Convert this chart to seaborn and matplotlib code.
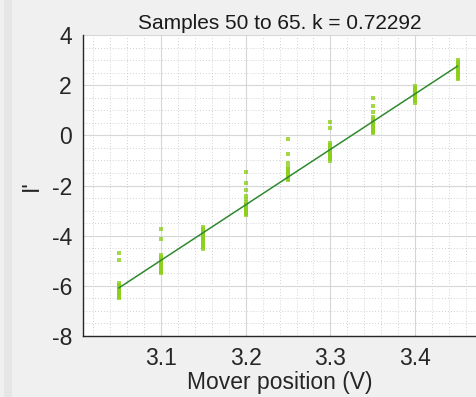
import numpy as np
import pandas as pd
import matplotlib
matplotlib.use("Agg")
import matplotlib.pyplot as plt
from matplotlib.ticker import MultipleLocator
import seaborn as sns

# ---- data ----
positions = [3.05, 3.10, 3.15, 3.20, 3.25, 3.30, 3.35, 3.40, 3.45]
c305 = [-4.68, -4.97, -5.89, -5.95, -6.00, -6.05, -6.10, -6.12, -6.18, -6.22, -6.28, -6.32, -6.38, -6.42, -6.45, -6.49]
c310 = [-3.74, -4.13, -4.77, -4.85, -4.92, -4.98, -5.02, -5.06, -5.10, -5.15, -5.20, -5.25, -5.30, -5.38, -5.45, -5.49]
c315 = [-3.65, -3.72, -3.80, -3.86, -3.90, -3.95, -3.98, -4.02, -4.06, -4.10, -4.15, -4.20, -4.28, -4.37, -4.45, -4.53]
c320 = [-1.46, -1.90, -2.18, -2.40, -2.55, -2.65, -2.72, -2.78, -2.83, -2.88, -2.93, -2.98, -3.03, -3.08, -3.12, -3.18]
c325 = [-0.15, -0.74, -1.10, -1.26, -1.35, -1.42, -1.48, -1.52, -1.56, -1.60, -1.63, -1.66, -1.70, -1.73, -1.76, -1.78]
c330 = [0.53, 0.29, -0.31, -0.38, -0.45, -0.50, -0.55, -0.60, -0.64, -0.68, -0.73, -0.78, -0.84, -0.90, -0.96, -1.02]
c335 = [1.49, 1.17, 0.93, 0.73, 0.65, 0.58, 0.52, 0.47, 0.42, 0.37, 0.32, 0.27, 0.22, 0.17, 0.12, 0.09]
c340 = [1.97, 1.90, 1.85, 1.80, 1.76, 1.72, 1.68, 1.65, 1.62, 1.58, 1.55, 1.50, 1.45, 1.40, 1.35, 1.29]
c345 = [3.00, 2.92, 2.85, 2.80, 2.75, 2.72, 2.68, 2.64, 2.60, 2.56, 2.52, 2.46, 2.40, 2.35, 2.30, 2.25]
clusters = [c305, c310, c315, c320, c325, c330, c335, c340, c345]

fit_x = [3.05, 3.45]
fit_y = [-6.09, 2.76]

xticks = [3.1, 3.2, 3.3, 3.4]
yticks = [-8, -6, -4, -2, 0, 2, 4]
title = "Samples 50 to 65. k = 0.72292"
xlabel = "Mover position (V)"
ylabel = "I'"

# ---- build table ----
rows = []
for p, vals in zip(positions, clusters):
    for v in vals:
        rows.append((p, v))
df = pd.DataFrame(rows, columns=["pos", "val"])
fit_df = pd.DataFrame({"pos": fit_x, "val": fit_y})

sns.set_style("white")
plt.rcParams["font.family"] = ["Liberation Sans", "DejaVu Sans"]

fig = plt.figure(figsize=(4.77, 3.97), dpi=100, facecolor="#f0f0f0")
# subtle darker vertical strip at far left
fig.patches.append(plt.Rectangle((4 / 477, 0), 8 / 477, 1, transform=fig.transFigure,
                                 facecolor="#e6e6e6", edgecolor="none", zorder=0))
ax = fig.add_axes([83 / 477, 61 / 397, 1 - 83 / 477, 301 / 397])
ax.set_facecolor("white")

sns.scatterplot(data=df, x="pos", y="val", ax=ax, marker="s", s=6.5,
                color="#8ccf1c", linewidth=0, alpha=0.8, zorder=3, legend=False)
sns.lineplot(data=fit_df, x="pos", y="val", ax=ax, color="#2f8a2f",
             linewidth=1.1, zorder=4, legend=False)

ax.set_xlim(3.008, 3.473)
ax.set_ylim(-8, 4)
ax.set_xticks(xticks)
ax.set_xticklabels([f"{t:.1f}" for t in xticks])
ax.set_yticks(yticks)
ax.set_yticklabels([str(t) for t in yticks])
ax.xaxis.set_minor_locator(MultipleLocator(0.02))
ax.yaxis.set_minor_locator(MultipleLocator(0.5))

ax.grid(True, which="major", color="#d6d6d6", linewidth=0.8, linestyle="-", zorder=1)
ax.grid(True, which="minor", color="#c2c2c2", linewidth=0.6, linestyle=(0, (1, 2.5)), zorder=1)
ax.set_axisbelow(True)

for s in ["top", "right"]:
    ax.spines[s].set_visible(False)
for s in ["left", "bottom"]:
    ax.spines[s].set_color("#262626")
    ax.spines[s].set_linewidth(1.0)

ax.tick_params(axis="both", which="major", direction="in", length=4, width=0.8,
               colors="#262626", labelsize=16.5, pad=8)
ax.tick_params(axis="both", which="minor", length=0)

ax.set_title(title, fontsize=15, color="#1a1a1a", pad=4)
ax.set_xlabel(xlabel, fontsize=16.5, color="#262626", labelpad=1)
ax.set_ylabel(ylabel, fontsize=16.5, color="#262626", labelpad=6)

fig.savefig("out.png", dpi=100, facecolor=fig.get_facecolor())
